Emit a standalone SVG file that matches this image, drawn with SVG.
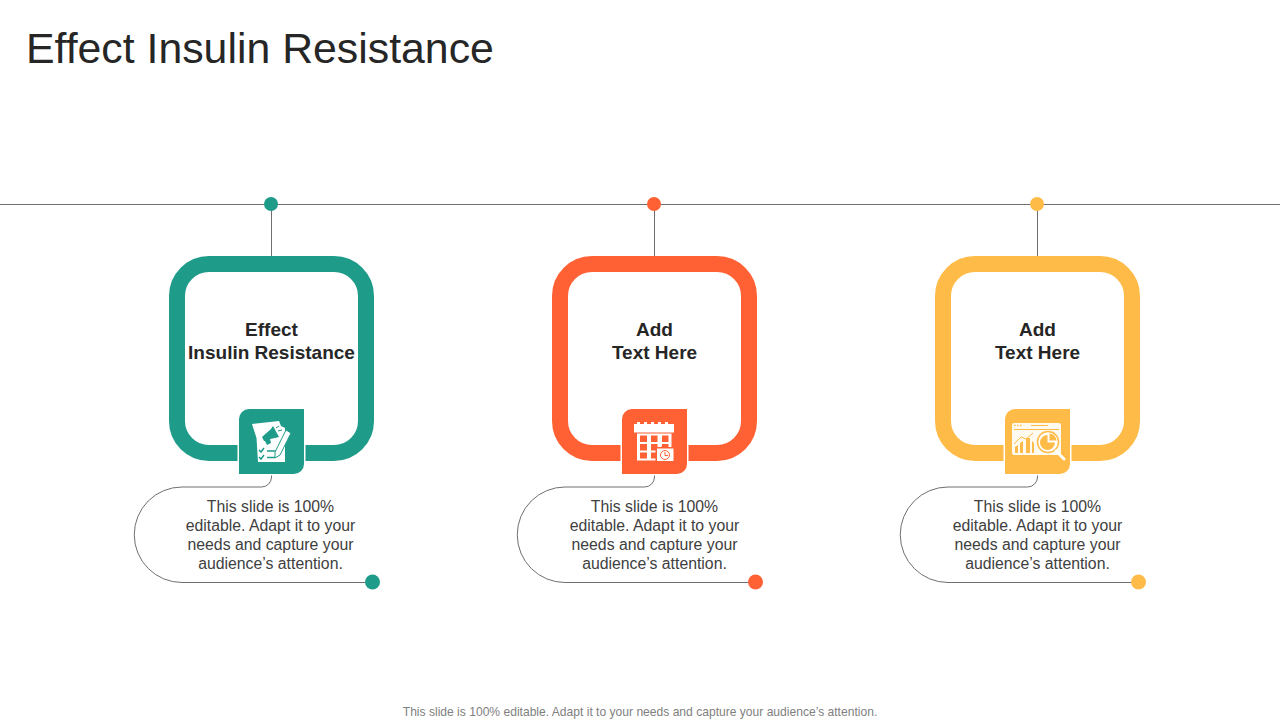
<svg xmlns="http://www.w3.org/2000/svg" width="1280" height="720" viewBox="0 0 1280 720">
<style>
text{font-family:"Liberation Sans",Arial,sans-serif;text-anchor:middle}
.title{font-size:42.8px;fill:#262626;text-anchor:start}
.head{font-size:19px;font-weight:bold;fill:#262626}
.body{font-size:15.8px;fill:#404040}
.foot{font-size:12.08px;fill:#7f7f7f}
.line{fill:none;stroke:#6f6f6f;stroke-width:1}
.ring{fill:#fff;stroke-width:16}
.tile{stroke:#fff;stroke-width:3;paint-order:stroke}
.w{fill:#fff}
.teal .ring{stroke:#1f9b8a}.teal .fillc{fill:#1f9b8a}
.orange .ring{stroke:#ff6135}.orange .fillc{fill:#ff6135}
.yellow .ring{stroke:#ffbb47}.yellow .fillc{fill:#ffbb47}
</style>
<defs>
<path id="tileShape" d="M249 409H304V464A10 10 0 0 1 294 474H239V419A10 10 0 0 1 249 409Z"/>
</defs>
<text class="title" x="26" y="63">Effect Insulin Resistance</text>
<g id="connectors">
<path class="line" d="M0 204.500H1280"/>
<path class="line" d="M271.500 204V256M654.500 204V256M1037.500 204V256"/>
<path class="line" d="M271.500 474V477A10 10 0 0 1 261.500 487H182A47.500 47.500 0 0 0 182 582.500H372"/>
<path class="line" d="M654.500 474V477A10 10 0 0 1 644.500 487H565A47.500 47.500 0 0 0 565 582.500H755"/>
<path class="line" d="M1037.500 474V477A10 10 0 0 1 1027.500 487H948A47.500 47.500 0 0 0 948 582.500H1138"/>
</g>
<g id="node-1" class="teal">
<circle class="fillc" cx="271" cy="204" r="7"/>
<rect class="ring" x="177" y="264" width="189" height="189" rx="32"/>
<use href="#tileShape" class="fillc tile"/>
<g id="icon-1">
<path class="w" d="M252 424L279 421L281 426L285 428V462H258L256.500 438Z"/>
<path class="fillc" d="M262 437L271 429L273 426L279 437L275 438L270 439L271 443L267 445L265 441L264 441Z"/>
<path fill="none" stroke="#1f9b8a" stroke-width="1" d="M276 428L279 426M278 431L282 430"/>
<path fill="none" stroke="#1f9b8a" stroke-width="1.500" d="M259 450L261 452L264 448M259 457L261 459L264 455M267 451H277M267 457.500H275"/>
<path class="w" stroke="#1f9b8a" stroke-width="1" d="M286 430L291 433L280 455L275 458L275 452Z"/>
</g>
<text class="head" x="271.500" y="336">Effect</text>
<text class="head" x="271.500" y="359">Insulin Resistance</text>
<text class="body" x="270.500" y="512">This slide is 100%</text>
<text class="body" x="270.500" y="531">editable. Adapt it to your</text>
<text class="body" x="270.500" y="550">needs and capture your</text>
<text class="body" x="270.500" y="569">audience’s attention.</text>
<circle class="fillc" cx="372.500" cy="582" r="7.500"/>
</g>
<g id="node-2" class="orange">
<circle class="fillc" cx="654" cy="204" r="7"/>
<rect class="ring" x="560" y="264" width="189" height="189" rx="32"/>
<use href="#tileShape" x="383" class="fillc tile"/>
<g id="icon-2">
<path class="w" d="M634 424H637V422H640V424H644V422H647V424H651V422H654V424H658V422H661V424H665V422H668V424H671H674V432.500H634Z"/>
<rect class="w" x="637" y="433.500" width="34.500" height="27"/>
<path class="fillc" d="M640 435.500H647V442H640ZM651 435.500H657.500V442H651ZM662 435.500H668.500V442H662ZM640 444H647V450.500H640ZM651 444H657.500V450.500H651ZM662 444H668.500V450.500H662ZM640 452.500H647V458.500H640ZM651 452.500H657.500V458.500H651Z"/>
<path class="fillc" d="M655.500 447H661L663 445L666 447H674.500V461.500H655.500Z"/>
<rect class="w" x="657" y="448.500" width="16.500" height="12.500"/>
<circle cx="665" cy="455" r="4.500" fill="#fff" stroke="#ff6135" stroke-width="1"/>
<path fill="none" stroke="#ff6135" stroke-width="1" d="M665 452V455.500H668"/>
</g>
<text class="head" x="654.500" y="336">Add</text>
<text class="head" x="654.500" y="359">Text Here</text>
<text class="body" x="654.500" y="512">This slide is 100%</text>
<text class="body" x="654.500" y="531">editable. Adapt it to your</text>
<text class="body" x="654.500" y="550">needs and capture your</text>
<text class="body" x="654.500" y="569">audience’s attention.</text>
<circle class="fillc" cx="755.500" cy="582" r="7.500"/>
</g>
<g id="node-3" class="yellow">
<circle class="fillc" cx="1037" cy="204" r="7"/>
<rect class="ring" x="943" y="264" width="189" height="189" rx="32"/>
<use href="#tileShape" x="766" class="fillc tile"/>
<g id="icon-3">
<rect class="w" x="1012" y="423" width="49" height="32" rx="2" opacity=".92"/>
<path fill="none" stroke="#ffbb47" stroke-width="1" d="M1014 429.500H1059M1031 425.500H1048"/>
<path fill="none" stroke="#ffbb47" stroke-width="1.400" stroke-dasharray="1.500 1.500" d="M1014 425.500H1022"/>
<path class="fillc" d="M1015 447L1018 445V453H1015ZM1020 443L1023 441V453H1020ZM1026 438H1030V453H1026ZM1032 441L1034 443V453H1032Z"/>
<path fill="none" stroke="#ffbb47" stroke-width="1" d="M1014 444L1021 437L1026 439L1033 433"/>
<circle cx="1048" cy="442" r="10.500" fill="#fff" stroke="#ffbb47" stroke-width="1.500"/>
<path class="fillc" d="M1047.500 435V442.500H1055A7.500 7.500 0 1 1 1047.500 435Z"/>
<path class="fillc" d="M1049.500 433.500A8 8 0 0 1 1056.500 440.500H1049.500Z"/>
<path fill="none" stroke="#fff" stroke-width="3" stroke-linecap="round" d="M1056 451L1064 459"/>
</g>
<text class="head" x="1037.500" y="336">Add</text>
<text class="head" x="1037.500" y="359">Text Here</text>
<text class="body" x="1037.500" y="512">This slide is 100%</text>
<text class="body" x="1037.500" y="531">editable. Adapt it to your</text>
<text class="body" x="1037.500" y="550">needs and capture your</text>
<text class="body" x="1037.500" y="569">audience’s attention.</text>
<circle class="fillc" cx="1138.500" cy="582" r="7.500"/>
</g>
<text class="foot" x="640" y="716">This slide is 100% editable. Adapt it to your needs and capture your audience’s attention.</text>
</svg>
